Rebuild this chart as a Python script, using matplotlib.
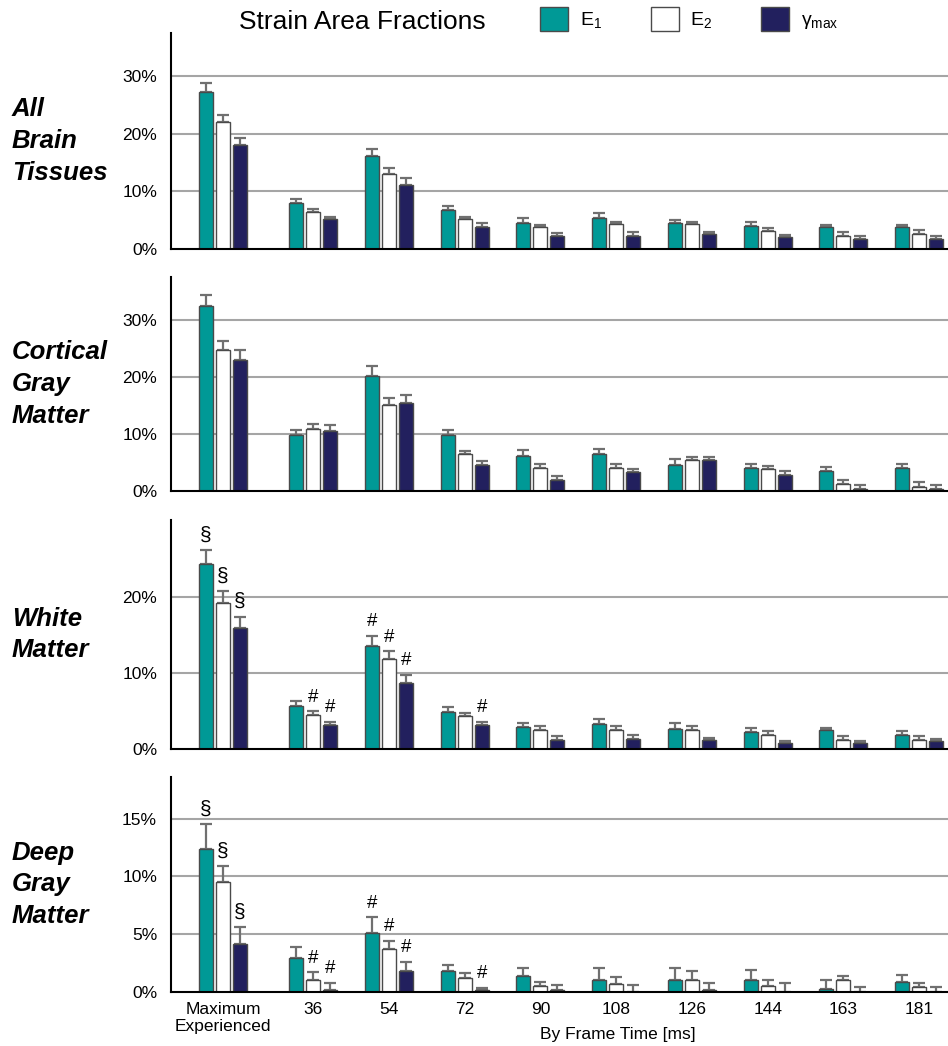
import matplotlib

matplotlib.use("Agg")
import matplotlib.pyplot as plt
import numpy as np
from matplotlib.patches import Patch

plt.rcParams["font.family"] = ["Liberation Sans", "DejaVu Sans"]
plt.rcParams["mathtext.default"] = "regular"

# ---- data (percent of brain volume) ----
groups = ["Maximum\nExperienced", "36", "54", "72", "90", "108", "126", "144", "163", "181"]
series = ["E$_1$", "E$_2$", r"$\gamma_{max}$"]
panel_titles = ["All\nBrain\nTissues", "Cortical\nGray\nMatter", "White\nMatter", "Deep\nGray\nMatter"]

all_e1 = [27.3, 7.9, 16.1, 6.8, 4.6, 5.45, 4.6, 4.05, 3.75, 3.75]
all_e1_err = [1.6, 0.8, 1.3, 0.7, 0.75, 0.75, 0.4, 0.7, 0.45, 0.45]
all_e2 = [22.0, 6.5, 13.0, 5.15, 3.75, 4.35, 4.35, 3.1, 2.3, 2.6]
all_e2_err = [1.3, 0.45, 1.0, 0.45, 0.45, 0.4, 0.4, 0.55, 0.7, 0.75]
all_g = [18.05, 5.15, 11.05, 3.75, 2.3, 2.3, 2.6, 2.0, 1.75, 1.75]
all_g_err = [1.25, 0.45, 1.25, 0.7, 0.4, 0.7, 0.4, 0.45, 0.45, 0.45]

cgm_e1 = [32.5, 9.9, 20.2, 9.9, 6.15, 6.45, 4.6, 4.05, 3.55, 4.05]
cgm_e1_err = [2.0, 0.9, 1.7, 0.9, 1.0, 0.95, 0.95, 0.7, 0.65, 0.7]
cgm_e2 = [24.7, 10.9, 15.15, 6.45, 4.05, 4.1, 5.4, 3.8, 1.2, 0.65]
cgm_e2_err = [1.7, 0.9, 1.15, 0.65, 0.7, 0.65, 0.6, 0.65, 0.7, 0.95]
cgm_g = [23.1, 10.6, 15.4, 4.55, 1.95, 3.35, 5.4, 2.75, 0.4, 0.4]
cgm_g_err = [1.7, 1.0, 1.45, 0.7, 0.7, 0.6, 0.6, 0.7, 0.6, 0.6]

wm_e1 = [24.4, 5.65, 13.6, 4.9, 2.9, 3.3, 2.7, 2.3, 2.5, 1.9]
wm_e1_err = [1.85, 0.7, 1.3, 0.65, 0.5, 0.7, 0.7, 0.5, 0.3, 0.5]
wm_e2 = [19.3, 4.5, 11.85, 4.3, 2.5, 2.5, 2.5, 1.9, 1.15, 1.15]
wm_e2_err = [1.5, 0.5, 1.05, 0.5, 0.5, 0.5, 0.5, 0.5, 0.5, 0.5]
wm_g = [16.0, 3.1, 8.65, 3.1, 1.15, 1.3, 1.15, 0.75, 0.75, 1.05]
wm_g_err = [1.45, 0.5, 1.15, 0.5, 0.5, 0.5, 0.3, 0.3, 0.3, 0.3]

dgm_e1 = [12.4, 2.95, 5.1, 1.85, 1.4, 1.0, 1.0, 1.0, 0.3, 0.85]
dgm_e1_err = [2.1, 0.95, 1.35, 0.5, 0.7, 1.05, 1.05, 0.9, 0.75, 0.65]
dgm_e2 = [9.55, 1.0, 3.7, 1.25, 0.55, 0.7, 1.0, 0.55, 1.0, 0.4]
dgm_e2_err = [1.35, 0.7, 0.75, 0.4, 0.35, 0.6, 0.8, 0.5, 0.35, 0.4]
dgm_g = [4.15, 0.2, 1.85, 0.2, 0.15, 0.0, 0.15, 0.0, 0.0, 0.0]
dgm_g_err = [1.45, 0.6, 0.75, 0.15, 0.45, 0.6, 0.65, 0.8, 0.45, 0.45]

# significance marks: (group index, series index, symbol)
wm_marks = [(0, 0, "§"), (0, 1, "§"), (0, 2, "§"), (1, 1, "#"), (1, 2, "#"),
            (2, 0, "#"), (2, 1, "#"), (2, 2, "#"), (3, 2, "#")]
dgm_marks = [(0, 0, "§"), (0, 1, "§"), (0, 2, "§"), (1, 1, "#"), (1, 2, "#"),
             (2, 0, "#"), (2, 1, "#"), (2, 2, "#"), (3, 2, "#")]

# ---- layout ----
W, H = 948, 1046
colors = ["#009996", "#ffffff", "#22205e"]
x_pos = np.array([-0.19, 1, 2, 3, 4, 5, 6, 7, 8, 9])
offsets = [-0.225, 0.0, 0.225]
bar_w = 0.185

panels = [
    dict(vals=[all_e1, all_e2, all_g], errs=[all_e1_err, all_e2_err, all_g_err],
         box=(33, 249), ymax=37.5, ticks=[0, 10, 20, 30], marks=[]),
    dict(vals=[cgm_e1, cgm_e2, cgm_g], errs=[cgm_e1_err, cgm_e2_err, cgm_g_err],
         box=(277, 491), ymax=37.6, ticks=[0, 10, 20, 30], marks=[]),
    dict(vals=[wm_e1, wm_e2, wm_g], errs=[wm_e1_err, wm_e2_err, wm_g_err],
         box=(520, 749), ymax=30.2, ticks=[0, 10, 20], marks=wm_marks),
    dict(vals=[dgm_e1, dgm_e2, dgm_g], errs=[dgm_e1_err, dgm_e2_err, dgm_g_err],
         box=(777, 992), ymax=18.6, ticks=[0, 5, 10, 15], marks=dgm_marks),
]

fig = plt.figure(figsize=(W / 100, H / 100), dpi=100)

for i, p in enumerate(panels):
    top, bottom = p["box"]
    ax = fig.add_axes([171 / W, 1 - bottom / H, (W - 171) / W, (bottom - top) / H])
    ax.set_xlim(-0.875, 9.38)
    ax.set_ylim(0, p["ymax"])
    for t in p["ticks"][1:]:
        ax.axhline(t, color="#a5a5a5", lw=1.5, zorder=0)
    for k in range(3):
        vals = np.asarray(p["vals"][k])
        errs = np.asarray(p["errs"][k])
        ax.bar(x_pos + offsets[k], vals, width=bar_w, color=colors[k],
               edgecolor="#4a4a4a", linewidth=1.0, zorder=2)
        ax.errorbar(x_pos + offsets[k], vals, yerr=[np.zeros_like(errs), errs],
                    fmt="none", ecolor="#707070", elinewidth=1.6, capsize=4,
                    capthick=1.6, zorder=1)
    for g, k, sym in p["marks"]:
        y = p["vals"][k][g] + p["errs"][k][g]
        ax.annotate(sym, (x_pos[g] + offsets[k], y), xytext=(0, 4),
                    textcoords="offset points", ha="center", va="bottom",
                    fontsize=15 if sym == "§" else 13.5)
    ax.set_yticks(p["ticks"])
    ax.set_yticklabels([f"{t}%" for t in p["ticks"]])
    ax.tick_params(axis="y", length=0, pad=10, labelsize=12.5)
    ax.set_xticks(x_pos)
    if i == len(panels) - 1:
        ax.set_xticklabels(groups)
        ax.tick_params(axis="x", length=0, pad=7, labelsize=12.5)
    else:
        ax.set_xticklabels([])
        ax.tick_params(axis="x", length=0)
    for side in ("top", "right"):
        ax.spines[side].set_visible(False)
    for side in ("left", "bottom"):
        ax.spines[side].set_linewidth(1.5)
        ax.spines[side].set_color("black")
    fig.text(12 / W, 1 - (top + bottom) / 2 / H, panel_titles[i], ha="left",
             va="center", fontsize=18.5, fontweight="bold", fontstyle="italic",
             linespacing=1.4)

fig.text(618 / W, 1 - 1035 / H, "By Frame Time [ms]", ha="center", va="center",
         fontsize=12.5)
fig.text(362 / W, 1 - 22 / H, "Strain Area Fractions", ha="center", va="center",
         fontsize=19)

handles = [Patch(facecolor=c, edgecolor="#4a4a4a", linewidth=1.0) for c in colors]
fig.legend(handles, series, loc="upper left", bbox_to_anchor=(540 / W, 1 - 7 / H),
           ncol=3, frameon=False, fontsize=14, handlelength=1.45,
           handleheight=1.5, handletextpad=0.6, columnspacing=2.5,
           borderpad=0, borderaxespad=0)

fig.savefig("out.png", dpi=100)
